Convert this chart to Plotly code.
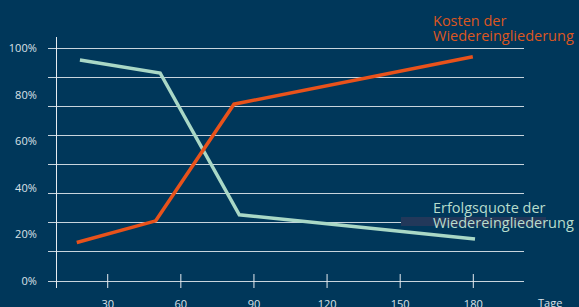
import plotly.graph_objects as go

# ---- data ----
erfolg_tage = [18.6, 51.5, 84.0, 180.7]
erfolgsquote = [95.1, 89.5, 28.5, 18.1]
kosten_tage = [17.3, 49.7, 81.8, 179.8]
kosten = [16.6, 25.9, 76.1, 96.5]
x_ticks = [30, 60, 90, 120, 150, 180]
y_ticks = [0, 20, 40, 60, 80, 100]
y_tick_labels = ["0%", "20%", "40%", "60%", "80%", "100%"]

W, H = 579, 307
BG = "#00375A"
ORANGE = "#E8521B"
MINT = "#A9D8C6"
TXT = "#DCE2E8"
GRID = "rgba(235,240,245,0.85)"
FONT = "Open Sans"

fig = go.Figure()

fig.add_trace(go.Scatter(x=erfolg_tage, y=erfolgsquote, mode="lines",
                         line=dict(color=MINT, width=3.5), hoverinfo="skip"))
fig.add_trace(go.Scatter(x=kosten_tage, y=kosten, mode="lines",
                         line=dict(color=ORANGE, width=3.5), hoverinfo="skip"))
# tick marks crossing the 0% line
fig.add_trace(go.Scatter(x=x_ticks, y=[0] * len(x_ticks), mode="markers",
                         marker=dict(symbol="line-ns", size=10,
                                     line=dict(color="#E6EBF0", width=1)),
                         hoverinfo="skip"))

# dark box behind text line
fig.add_shape(type="rect", xref="paper", yref="paper",
              x0=401 / W, x1=546 / W, y0=(H - 226) / H, y1=(H - 217) / H,
              fillcolor="#22385A", line=dict(width=0), layer="above")

def ann(text, x, y, color):
    fig.add_annotation(text=text, xref="paper", yref="paper",
                       x=x / W, y=(H - y) / H, xanchor="left", yanchor="middle",
                       showarrow=False, font=dict(family=FONT, size=14.5, color=color))

ann("Kosten der", 431, 20, "#DC561F")
ann("Wiedereingliederung", 431, 35, "#DC561F")
ann("Erfolgsquote der", 431, 207.5, "#B8DDCD")
ann("Wiedereingliederung", 431, 222.5, "#B8DDCD")
fig.add_annotation(text="Tage", xref="paper", yref="paper", x=550 / W,
                   y=(H - 302) / H, xanchor="center", yanchor="middle",
                   showarrow=False, font=dict(family=FONT, size=11, color=TXT))

fig.update_layout(
    width=W, height=H,
    margin=dict(l=0, r=0, t=0, b=0, autoexpand=False),
    paper_bgcolor=BG, plot_bgcolor=BG,
    showlegend=False,
    font=dict(family=FONT, size=11, color=TXT),
    xaxis=dict(domain=[48 / W, 524 / W], range=[5.5, 200.8],
               anchor="free", position=(H - 281) / H, automargin=False,
               tickvals=x_ticks, ticktext=[str(v) for v in x_ticks],
               ticks="", showgrid=False, zeroline=False, showline=False,
               ticklabelstandoff=15, tickfont=dict(size=11, color=TXT)),
    yaxis=dict(domain=[(H - 288) / H, (H - 37) / H], range=[-3, 105],
               automargin=False,
               tick0=0, dtick=12.5, showgrid=True, gridcolor=GRID, gridwidth=1,
               showticklabels=False, ticks="", zeroline=False, showline=False),
    yaxis2=dict(overlaying="y", domain=[(H - 288) / H, (H - 37) / H],
                range=[-3, 105], anchor="free", position=56 / W, side="left",
                automargin=False,
                tickvals=y_ticks, ticktext=y_tick_labels, ticks="",
                showgrid=False, zeroline=False, showline=True,
                linecolor="#E6EBF0", linewidth=1, ticklabelstandoff=17,
                tickfont=dict(size=11, color=TXT)),
)
# dummy trace to activate yaxis2
fig.add_trace(go.Scatter(x=[None], y=[None], yaxis="y2", hoverinfo="skip"))

fig.write_html("out.html", config={"displayModeBar": False},
               post_script="document.body.style.margin='0';document.body.style.overflow='hidden';")
